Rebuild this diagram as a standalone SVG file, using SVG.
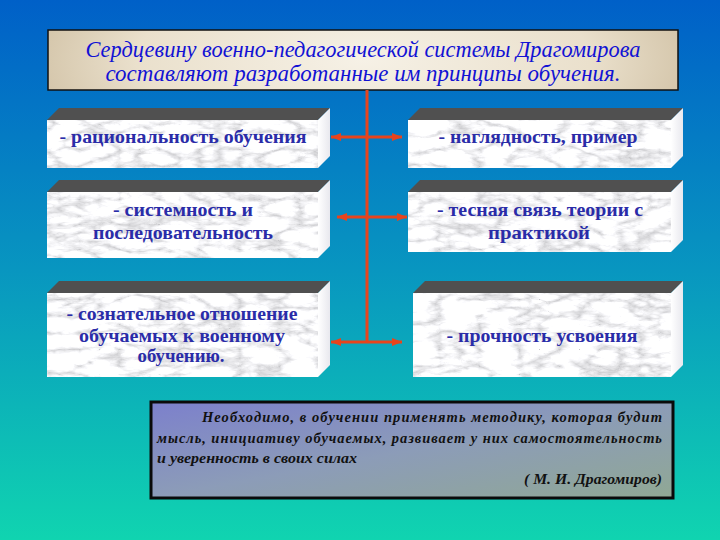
<svg xmlns="http://www.w3.org/2000/svg" width="720" height="540" viewBox="0 0 720 540">
<defs>
<linearGradient id="bg" x1="0" y1="0" x2="0" y2="1">
<stop offset="0" stop-color="#0060c8"/>
<stop offset="0.5" stop-color="#0896c0"/>
<stop offset="1" stop-color="#10d4b0"/>
</linearGradient>
<radialGradient id="beige" cx="0.5" cy="0.5" r="0.6" gradientTransform="translate(0.5 0.5) scale(1 4) translate(-0.5 -0.5)">
<stop offset="0" stop-color="#f6f1e6"/>
<stop offset="0.6" stop-color="#eae0cc"/>
<stop offset="1" stop-color="#c9b899"/>
</radialGradient>
<linearGradient id="quoteFill" x1="0" y1="0" x2="1" y2="1">
<stop offset="0" stop-color="#7c80cc"/>
<stop offset="0.5" stop-color="#8c9cb8"/>
<stop offset="1" stop-color="#90a894"/>
</linearGradient>
<linearGradient id="sideFill" x1="0" y1="0" x2="1" y2="0">
<stop offset="0" stop-color="#ffffff"/>
<stop offset="1" stop-color="#e8e8ee"/>
</linearGradient>
<filter id="marble" x="0" y="0" width="1" height="1" filterUnits="objectBoundingBox">
<feTurbulence type="turbulence" baseFrequency="0.025 0.06" numOctaves="4" seed="5" result="n"/>
<feColorMatrix in="n" type="matrix" values="1.3 0 0 0 0.58  1.3 0 0 0 0.58  1.3 0 0 0 0.6  0 0 0 0 1"/>
</filter>
<marker id="arrow" markerUnits="userSpaceOnUse" markerWidth="12" markerHeight="10" refX="10" refY="4" orient="auto">
<path d="M0,0 L10,4 L0,8 z" fill="#e8441c"/>
</marker>
<style>
.top{fill:#505050}
.side{fill:url(#sideFill)}
.face{fill:#e6e6ea;filter:url(#marble)}
.bt{font-family:"Liberation Serif","DejaVu Serif",serif;font-weight:bold;font-size:19px;fill:#2a2ca8;text-anchor:middle}
.title{font-family:"Liberation Serif","DejaVu Serif",serif;font-style:italic;font-size:23px;fill:#1212d4;text-anchor:middle}
.q{font-family:"Liberation Serif","DejaVu Serif",serif;font-style:italic;font-weight:bold;font-size:14.5px;fill:#111111}
.con{stroke:#e8441c;stroke-width:3;fill:none}
</style>
</defs>

<rect x="0" y="0" width="720" height="540" fill="url(#bg)"/>

<g id="title">
<rect x="48" y="30" width="630" height="60" fill="url(#beige)" stroke="#111" stroke-width="1.5"/>
<text class="title" x="363" y="57" textLength="555" lengthAdjust="spacingAndGlyphs">Сердцевину военно-педагогической системы Драгомирова</text>
<text class="title" x="363" y="81" textLength="515" lengthAdjust="spacingAndGlyphs">составляют разработанные им принципы обучения.</text>
</g>

<g id="connectors">
<line class="con" x1="367" y1="90" x2="367" y2="342"/>
<line class="con" x1="367" y1="137" x2="331" y2="137" marker-end="url(#arrow)"/>
<line class="con" x1="367" y1="137" x2="402" y2="137" marker-end="url(#arrow)"/>
<line class="con" x1="367" y1="217" x2="337" y2="217" marker-end="url(#arrow)"/>
<line class="con" x1="367" y1="217" x2="407" y2="217" marker-end="url(#arrow)"/>
<line class="con" x1="367" y1="342" x2="331" y2="342" marker-end="url(#arrow)"/>
<line class="con" x1="367" y1="342" x2="402" y2="342" marker-end="url(#arrow)"/>
</g>

<g id="box-l1">
<polygon class="top" points="47,120 59,108 330,108 318,120"/>
<polygon class="side" points="318,120 330,108 330,156 318,168"/>
<rect class="face" x="47" y="120" width="271" height="48"/>
<text class="bt" x="183" y="143" textLength="247" lengthAdjust="spacingAndGlyphs">- рациональность обучения</text>
</g>

<g id="box-r1">
<polygon class="top" points="408,120 420,108 683,108 671,120"/>
<polygon class="side" points="671,120 683,108 683,156 671,168"/>
<rect class="face" x="408" y="120" width="263" height="48"/>
<text class="bt" x="538" y="143" textLength="199" lengthAdjust="spacingAndGlyphs">- наглядность, пример</text>
</g>

<g id="box-l2">
<polygon class="top" points="47,192 59,180 330,180 318,192"/>
<polygon class="side" points="318,192 330,180 330,246 318,258"/>
<rect class="face" x="47" y="192" width="271" height="66"/>
<text class="bt" x="183" y="216" textLength="140" lengthAdjust="spacingAndGlyphs">- системность и</text>
<text class="bt" x="183" y="239" textLength="180" lengthAdjust="spacingAndGlyphs">последовательность</text>
</g>

<g id="box-r2">
<polygon class="top" points="408,192 420,180 683,180 671,192"/>
<polygon class="side" points="671,192 683,180 683,240 671,252"/>
<rect class="face" x="408" y="192" width="263" height="60"/>
<text class="bt" x="540" y="216" textLength="206" lengthAdjust="spacingAndGlyphs">- тесная связь теории с</text>
<text class="bt" x="539" y="239" textLength="102" lengthAdjust="spacingAndGlyphs">практикой</text>
</g>

<g id="box-l3">
<polygon class="top" points="47,293 59,281 330,281 318,293"/>
<polygon class="side" points="318,293 330,281 330,365 318,377"/>
<rect class="face" x="47" y="293" width="271" height="84"/>
<text class="bt" x="182" y="320" textLength="231" lengthAdjust="spacingAndGlyphs">- сознательное отношение</text>
<text class="bt" x="182" y="342" textLength="206" lengthAdjust="spacingAndGlyphs">обучаемых к военному</text>
<text class="bt" x="181" y="362" textLength="87" lengthAdjust="spacingAndGlyphs">обучению.</text>
</g>

<g id="box-r3">
<polygon class="top" points="413,293 425,281 683,281 671,293"/>
<polygon class="side" points="671,293 683,281 683,365 671,377"/>
<rect class="face" x="413" y="293" width="258" height="84"/>
<text class="bt" x="542" y="342" textLength="191" lengthAdjust="spacingAndGlyphs">- прочность усвоения</text>
</g>

<g id="quote">
<rect x="151" y="402" width="522" height="96" fill="url(#quoteFill)" stroke="#0a0a0a" stroke-width="3"/>
<text class="q" x="202" y="422" textLength="460">Необходимо,   в обучении применять методику, которая будит</text>
<text class="q" x="157" y="443" textLength="505">мысль, инициативу обучаемых, развивает у них самостоятельность</text>
<text class="q" x="157" y="463" textLength="200" lengthAdjust="spacingAndGlyphs">и уверенность в своих силах</text>
<text class="q" x="662" y="484" text-anchor="end" textLength="138" lengthAdjust="spacingAndGlyphs">( М. И. Драгомиров)</text>
</g>
</svg>
